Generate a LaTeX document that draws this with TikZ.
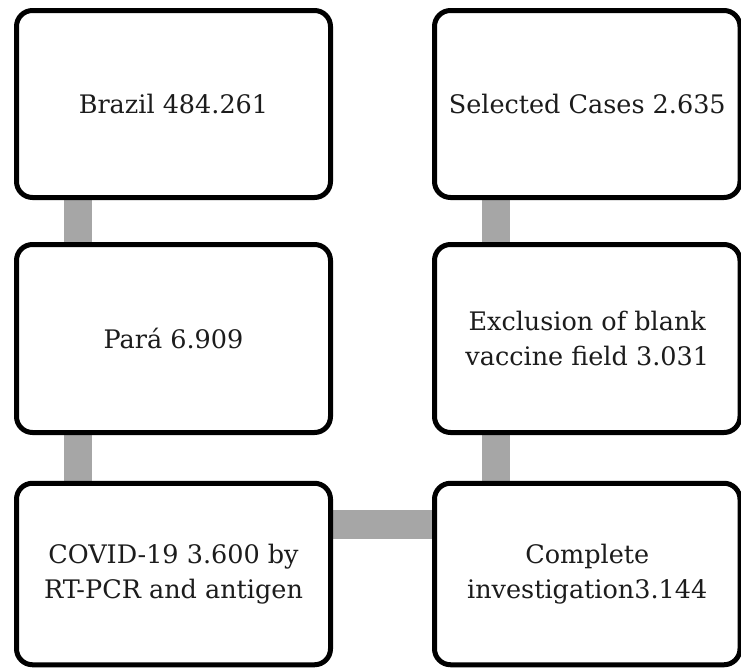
\documentclass[tikz,border=0pt]{standalone}
\usepackage{fontspec}
\setmainfont{DejaVu Serif}
\usepackage{tikz}
\definecolor{link}{RGB}{166, 166, 166}
\definecolor{ink}{RGB}{28, 28, 28}
\pgfdeclarelayer{back}
\pgfsetlayers{back,main}

\begin{document}
\begin{tikzpicture}[
   x=1pt, y=-1pt,
   stepbox/.style={rectangle, rounded corners=16, draw=black, fill=white, line width=5,
                   text=ink, align=center, inner sep=0,
                   font=\fontsize{25.5}{35}\selectfont},
   widebox/.style={stepbox, minimum width=314},
   narrowbox/.style={stepbox, minimum width=305.5}
  ]

  % Frame
  \useasboundingbox (0, 0) rectangle (741, 670);

  % Columns and rows
  \pgfmathsetmacro{\xl}{173.5}
  \pgfmathsetmacro{\xr}{587.25}

  \node (brazil) at (\xl, 104) [widebox, minimum height=187] {Brazil 484.261};
  \node (para) at (\xl, 338.5) [widebox, minimum height=188] {Pará 6.909};
  \node (covid) at (\xl, 574) [widebox, minimum height=181.5] {COVID-19 3.600 by\\RT-PCR and antigen};

  \node (selected) at (\xr, 104) [narrowbox, minimum height=187] {Selected Cases 2.635};
  \node (exclusion) at (\xr, 338.5) [narrowbox, minimum height=188] {Exclusion of blank\\vaccine field 3.031};
  \node (complete) at (\xr, 574) [narrowbox, minimum height=181.5] {Complete\\investigation3.144};

  \begin{pgfonlayer}{back}
    \foreach \B/\E in {brazil/para, para/covid, selected/exclusion, exclusion/complete} {
      \draw[link, line width=28] ([xshift=64]\B.south west) -- ([xshift=64]\E.north west);
    }
    \draw[link, line width=29] ([yshift=-43.5]covid.north east) -- ([yshift=-43.5]complete.north west);
  \end{pgfonlayer}

\end{tikzpicture}
\end{document}
